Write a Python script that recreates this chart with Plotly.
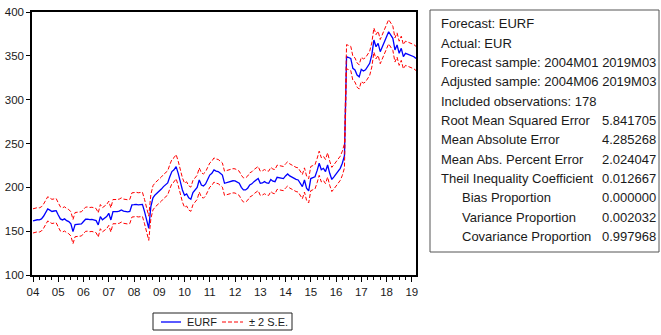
import plotly.graph_objects as go

# Monthly static forecast of EUR (EURF), 2004M01 .. 2019M03
start_year = 2004
eurf = [
    161.7, 162.5, 163.0, 162.8, 164.0, 167.0, 171.0, 175.5, 174.0, 172.5, 173.0, 173.4,
    168.5, 164.0, 162.8, 164.0, 162.0, 160.9, 158.3, 149.5, 157.5, 158.0, 157.8, 158.3,
    161.0, 163.6, 163.8, 163.2, 163.5, 162.8, 162.0, 157.1, 166.6, 163.0, 164.7, 166.6,
    170.4, 162.8, 172.3, 172.0, 172.3, 172.8, 174.2, 172.8, 172.3, 172.0, 172.5, 179.9,
    180.2, 180.6, 180.0, 179.9, 180.6, 172.3, 160.9, 153.3, 178.0, 188.0, 191.3, 193.5,
    195.0, 198.0, 200.8, 203.5, 205.0, 212.0, 218.0, 220.0, 223.6, 216.0, 204.6, 197.0,
    191.0, 192.5, 188.0, 186.4, 194.0, 196.4, 200.0, 208.4, 202.7, 201.5, 203.9, 209.0,
    214.0, 216.0, 219.8, 218.5, 218.0, 216.0, 214.0, 204.6, 205.5, 206.0, 206.5, 207.5,
    207.3, 206.0, 204.6, 200.0, 197.0, 197.0, 199.0, 202.7, 204.0, 206.5, 208.0, 210.0,
    204.6, 205.0, 206.5, 205.0, 204.6, 209.0, 207.0, 206.5, 211.5, 211.0, 210.5, 210.0,
    213.0, 215.3, 213.0, 211.5, 210.5, 209.0, 208.4, 205.0, 200.8, 208.4, 199.0, 196.0,
    210.0, 211.0, 212.0, 219.0, 227.5, 220.0, 221.7, 218.0, 225.5, 216.0, 209.0, 212.0,
    215.3, 219.0, 221.7, 227.5, 236.0, 349.0, 348.0, 347.0, 335.8, 333.9, 328.0, 326.0,
    334.6, 332.7, 334.0, 338.0, 341.5, 351.0, 368.0, 360.4, 364.3, 354.8, 360.4, 364.0,
    371.8, 377.5, 373.8, 370.0, 356.7, 362.4, 352.9, 358.6, 349.0, 352.9, 352.0, 351.0,
    349.5, 349.0, 347.0,
]
# Forecast standard error (constant for the static forecast)
se = 6.9

years = list(range(2004, 2020))
year_labels = [f"{y % 100:02d}" for y in years]

stat_names = [
    "Forecast: EURF",
    "Actual: EUR",
    "Forecast sample: 2004M01 2019M03",
    "Adjusted sample: 2004M06 2019M03",
    "Included observations: 178",
    "Root Mean Squared Error",
    "Mean Absolute Error",
    "Mean Abs. Percent Error",
    "Theil Inequality Coefficient",
    "Bias Proportion",
    "Variance Proportion",
    "Covariance Proportion",
]
stat_values = ["", "", "", "", "", "5.841705", "4.285268", "2.024047",
               "0.012667", "0.000000", "0.002032", "0.997968"]
stat_indent = [False] * 9 + [True] * 3

legend_names = ["EURF", "± 2 S.E."]

x = [start_year + i / 12 for i in range(len(eurf))]
upper = [v + 2 * se for v in eurf]
lower = [v - 2 * se for v in eurf]

FONT = "Liberation Sans, Arial, sans-serif"
TXT = "#1a1a1a"
BLUE_LINE = dict(color="#0000ff", width=1.3)
RED_LINE = dict(color="#ff0000", width=1, dash="4px,2px")

fig = go.Figure()
fig.add_trace(go.Scatter(x=x, y=eurf, mode="lines", name=legend_names[0],
                         line=BLUE_LINE))
fig.add_trace(go.Scatter(x=x, y=upper, mode="lines", name=legend_names[1],
                         line=RED_LINE))
fig.add_trace(go.Scatter(x=x, y=lower, mode="lines", name=legend_names[1],
                         line=RED_LINE))

# plot area geometry in pixels
W, H = 661, 335
L, R, T, B = 32, 416, 12, 275
pw, ph = R - L, B - T


def px(xp):
    return (xp - L) / pw


def py(yp):
    return (B - yp) / ph


# statistics panel
shapes = [dict(type="rect", xref="paper", yref="paper",
               x0=px(430), x1=px(659), y0=py(252), y1=py(10),
               line=dict(color="#555555", width=1), fillcolor="rgba(0,0,0,0)")]

annotations = []
for k, (name, val, ind) in enumerate(zip(stat_names, stat_values, stat_indent)):
    yc = 24 + k * 19.3
    annotations.append(dict(
        xref="paper", yref="paper", x=px(460 if ind else 439), y=py(yc),
        xanchor="left", yanchor="middle", text=name, showarrow=False,
        font=dict(family=FONT, size=13, color=TXT)))
    if val:
        annotations.append(dict(
            xref="paper", yref="paper", x=px(600), y=py(yc),
            xanchor="left", yanchor="middle", text=val, showarrow=False,
            font=dict(family=FONT, size=13, color=TXT)))

# key below the plot: framed box with a line sample and name per series
key_y = 322
shapes.append(dict(type="rect", xref="paper", yref="paper",
                   x0=px(153), x1=px(292), y0=py(330), y1=py(313),
                   line=dict(color="#222222", width=1), fillcolor="white"))
for (x0, x1, tx), style, name in zip([(161, 181, 185), (222, 243, 247)],
                                     [BLUE_LINE, RED_LINE], legend_names):
    shapes.append(dict(type="line", xref="paper", yref="paper",
                       x0=px(x0), x1=px(x1), y0=py(key_y), y1=py(key_y),
                       line=style))
    annotations.append(dict(
        xref="paper", yref="paper", x=px(tx), y=py(key_y),
        xanchor="left", yanchor="middle", text=name, showarrow=False,
        font=dict(family=FONT, size=11, color=TXT)))

fig.update_layout(
    width=W, height=H,
    margin=dict(l=L, r=W - R, t=T, b=H - B, autoexpand=False),
    paper_bgcolor="white", plot_bgcolor="white",
    font=dict(family=FONT, size=12, color=TXT),
    showlegend=False,
    shapes=shapes,
    annotations=annotations,
)
fig.update_xaxes(
    range=[start_year - 0.04, start_year + (len(eurf) - 1) / 12],
    tickmode="array", tickvals=years, ticktext=year_labels,
    ticks="outside", ticklen=5, tickcolor="black", tickwidth=1,
    minor=dict(tickmode="linear", tick0=start_year, dtick=0.25,
               ticks="outside", ticklen=3, tickcolor="black", tickwidth=1),
    showline=True, linecolor="black", linewidth=1.5, mirror=True,
    showgrid=False, zeroline=False,
    tickfont=dict(family=FONT, size=11.5, color=TXT),
)
fig.update_yaxes(
    range=[100, 400], tickmode="array", tickvals=list(range(100, 401, 50)),
    ticks="outside", ticklen=4, tickcolor="black",
    showline=True, linecolor="black", linewidth=1.5, mirror=True,
    showgrid=False, zeroline=False,
    tickfont=dict(family=FONT, size=11.5, color=TXT),
)

fig.write_html("out.html")
